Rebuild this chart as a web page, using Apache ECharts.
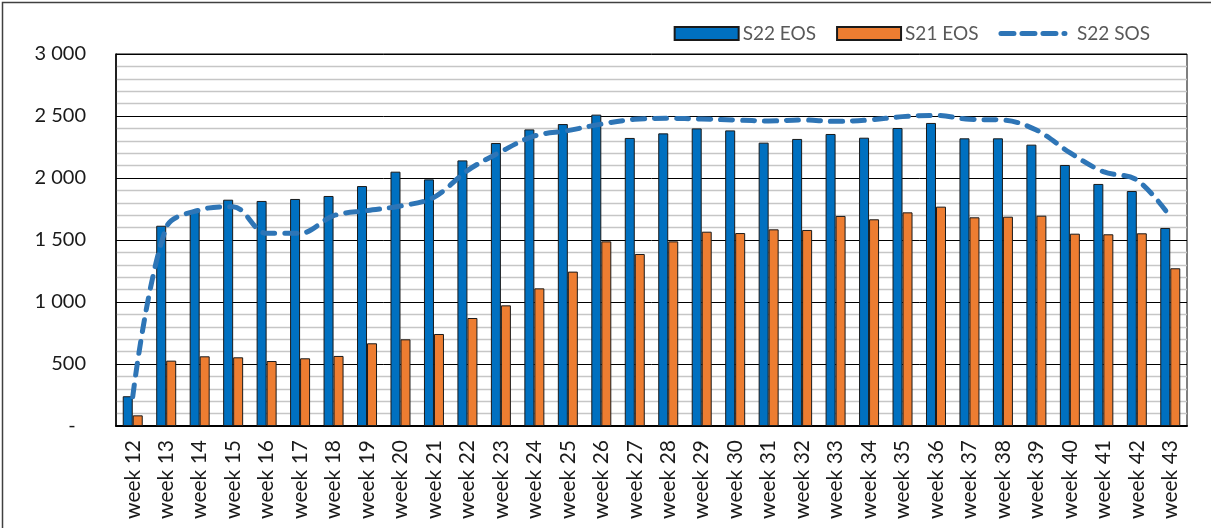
<!DOCTYPE html>
<html><head><meta charset="utf-8">
<script src="https://cdn.jsdelivr.net/npm/echarts@6/dist/echarts.min.js"></script>
<style>html,body{margin:0;padding:0;background:#fff}#c{width:1211px;height:528px}</style>
</head><body><div id="c"></div>
<script>
const categories = ['week 12','week 13','week 14','week 15','week 16','week 17','week 18','week 19','week 20','week 21','week 22','week 23','week 24','week 25','week 26','week 27','week 28','week 29','week 30','week 31','week 32','week 33','week 34','week 35','week 36','week 37','week 38','week 39','week 40','week 41','week 42','week 43'];
const s22Eos = [240,1615,1731,1825,1815,1831,1855,1935,2051,1989,2142,2282,2392,2435,2511,2323,2360,2400,2384,2285,2315,2355,2325,2403,2444,2320,2320,2269,2105,1952,1895,1597];
const s21Eos = [86,527,562,554,524,546,565,667,699,742,871,973,1110,1245,1489,1387,1489,1567,1556,1586,1581,1694,1667,1723,1769,1683,1688,1696,1551,1546,1554,1272];
const s22Sos = [236,1600,1742,1769,1554,1554,1696,1737,1774,1844,2060,2212,2339,2382,2435,2473,2481,2476,2468,2460,2468,2457,2468,2495,2505,2473,2468,2387,2204,2051,1984,1688];
const yTicks = [0,500,1000,1500,2000,2500,3000];

const FONT = 'Lato';
const chart = echarts.init(document.getElementById('c'), null, {renderer:'canvas'});
function fmt(v){
  if (v === 0) return '-  ';
  const s = String(v);
  return s.length > 3 ? s.slice(0, s.length-3) + ' ' + s.slice(-3) : s;
}
chart.setOption({
  animation:false,
  backgroundColor:'#fff',
  textStyle:{fontFamily:FONT},
  graphic:[{type:'rect', shape:{x:2.5,y:2.5,width:1300,height:700}, style:{fill:'none', stroke:'#404040', lineWidth:1.5}, silent:true}],
  legend:{
    right:56, top:19, itemWidth:64, itemHeight:13, itemGap:20,
    textStyle:{fontFamily:FONT, fontSize:19, color:'#595959', padding:[0,0,0,-1]},
    data:[
      {name:'S22 EOS', icon:'rect'},
      {name:'S21 EOS', icon:'rect'},
      {name:'S22 SOS', itemStyle:{opacity:0}, textStyle:{padding:[0,0,0,7]},
        lineStyle:{width:5, type:[13,8], cap:'round', color:'#2E75B6'}}
    ]
  },
  grid:{left:116, right:24, top:54, bottom:102, show:true, borderColor:'#000', borderWidth:1},
  xAxis:{
    type:'category', data:categories,
    axisLine:{lineStyle:{color:'#000', width:2}},
    axisTick:{show:false},
    axisLabel:{rotate:90, margin:14, fontSize:21, color:'#1a1a1a', fontFamily:FONT, interval:0}
  },
  yAxis:{
    type:'value', min:0, max:3000, interval:500,
    axisLine:{show:true, lineStyle:{color:'#000', width:1.5}},
    axisTick:{show:false},
    axisLabel:{formatter:fmt, fontSize:20, color:'#1a1a1a', fontFamily:FONT, margin:30,
      customValues: yTicks},
    splitLine:{show:true, lineStyle:{color:'#000', width:1}},
    minorTick:{show:false, splitNumber:5},
    minorSplitLine:{show:true, lineStyle:{color:'#c6c6c6', width:1.3}}
  },
  series:[
    {name:'S22 EOS', type:'bar', data:s22Eos, barWidth:10, barGap:'0%',
      itemStyle:{color:'#0070C0', borderColor:'#1a1a1a', borderWidth:1}},
    {name:'S21 EOS', type:'bar', data:s21Eos, barWidth:10,
      itemStyle:{color:'#ED7D31', borderColor:'#1a1a1a', borderWidth:1}},
    {name:'S22 SOS', type:'line', data:s22Sos, smooth:0.35, symbol:'none', z:5,
      itemStyle:{color:'#2E75B6'},
      lineStyle:{color:'#2E75B6', width:5, type:[12,10], cap:'round'}}
  ]
});
</script></body></html>
